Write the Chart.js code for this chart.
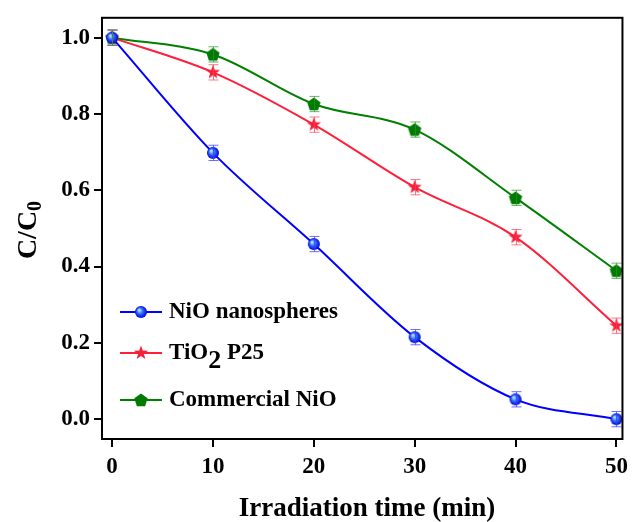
<!DOCTYPE html>
<html>
<head>
<meta charset="utf-8">
<script src="https://cdn.jsdelivr.net/npm/chart.js@4"></script>
<style>
  body { margin: 0; background: #fff; }
  #grafico { display: block; }
</style>
</head>
<body>
<canvas id="grafico" width="634" height="522"></canvas>
<script>
const tempos = [0, 10, 20, 30, 40, 50];
const nioNano = [1.0, 0.698, 0.459, 0.215, 0.052, 0.0];
const tio2 = [1.0, 0.909, 0.772, 0.608, 0.477, 0.245];
const nioComercial = [1.0, 0.956, 0.826, 0.759, 0.580, 0.389];
const erroNano = [0.02, 0.02, 0.02, 0.02, 0.02, 0.02];
const erroTio2 = [0.02, 0.02, 0.02, 0.02, 0.02, 0.02];
const erroComercial = [0.02, 0.02, 0.02, 0.02, 0.02, 0.02];
const ticksX = [0, 10, 20, 30, 40, 50];
const ticksY = [0.0, 0.2, 0.4, 0.6, 0.8, 1.0];

const fonte = '"Liberation Serif", "Times New Roman", serif';

function criarMarcador(tamanho, desenhar) {
  const c = document.createElement('canvas');
  c.width = tamanho;
  c.height = tamanho;
  desenhar(c.getContext('2d'), tamanho / 2);
  return c;
}

const esfera = criarMarcador(14, (ctx, m) => {
  const g = ctx.createRadialGradient(m - 2, m - 2, 0.5, m, m, 6);
  g.addColorStop(0, '#bfe4ff');
  g.addColorStop(0.45, '#2f6bff');
  g.addColorStop(1, '#0000d8');
  ctx.fillStyle = g;
  ctx.beginPath();
  ctx.arc(m, m, 6, 0, Math.PI * 2);
  ctx.fill();
});

const estrela = criarMarcador(16, (ctx, m) => {
  ctx.fillStyle = '#f5203a';
  ctx.beginPath();
  for (let i = 0; i < 10; i++) {
    const r = i % 2 === 0 ? 7.5 : 3;
    const a = -Math.PI / 2 + i * Math.PI / 5;
    ctx.lineTo(m + r * Math.cos(a), m + r * Math.sin(a));
  }
  ctx.closePath();
  ctx.fill();
});

const pentagono = criarMarcador(16, (ctx, m) => {
  ctx.fillStyle = '#007a00';
  ctx.beginPath();
  for (let i = 0; i < 5; i++) {
    const a = -Math.PI / 2 + i * 2 * Math.PI / 5;
    ctx.lineTo(m + 7 * Math.cos(a), m + 0.5 + 7 * Math.sin(a));
  }
  ctx.closePath();
  ctx.fill();
});

function pontos(valores) {
  return valores.map((v, i) => ({ x: tempos[i], y: v }));
}

const series = [
  { label: 'NiO nanospheres', valores: nioNano, erros: erroNano, cor: '#0000ff', erroCor: 'rgba(60,60,255,0.75)', marcador: esfera },
  { label: 'TiO2 P25', valores: tio2, erros: erroTio2, cor: '#ff1f3a', erroCor: 'rgba(255,60,80,0.7)', marcador: estrela },
  { label: 'Commercial NiO', valores: nioComercial, erros: erroComercial, cor: '#008000', erroCor: 'rgba(40,150,40,0.7)', marcador: pentagono },
];

const barrasErro = {
  id: 'barrasErro',
  afterDatasetsDraw(chart) {
    const ctx = chart.ctx;
    const sx = chart.scales.x, sy = chart.scales.y;
    ctx.save();
    series.forEach(s => {
      ctx.strokeStyle = s.erroCor;
      ctx.lineWidth = 1;
      s.valores.forEach((v, i) => {
        const x = Math.round(sx.getPixelForValue(tempos[i])) + 0.5;
        const y1 = sy.getPixelForValue(v + s.erros[i]);
        const y2 = sy.getPixelForValue(v - s.erros[i]);
        ctx.beginPath();
        ctx.moveTo(x, y1); ctx.lineTo(x, y2);
        ctx.moveTo(x - 5, y1); ctx.lineTo(x + 5, y1);
        ctx.moveTo(x - 5, y2); ctx.lineTo(x + 5, y2);
        ctx.stroke();
      });
    });
    ctx.restore();
  }
};

const moldura = {
  id: 'moldura',
  afterDraw(chart) {
    const ctx = chart.ctx;
    const a = chart.chartArea;
    ctx.save();
    ctx.strokeStyle = '#000';
    ctx.lineWidth = 2;
    ctx.strokeRect(a.left, a.top, a.right - a.left, a.bottom - a.top);

    // titulo do eixo x
    ctx.fillStyle = '#000';
    ctx.font = 'bold 27px ' + fonte;
    ctx.textAlign = 'center';
    ctx.textBaseline = 'alphabetic';
    ctx.fillText('Irradiation time (min)', 367, 516);

    // titulo do eixo y com subscrito
    ctx.translate(36, 230);
    ctx.rotate(-Math.PI / 2);
    ctx.textAlign = 'left';
    ctx.font = 'bold 28px ' + fonte;
    const w1 = ctx.measureText('C/C').width;
    ctx.font = 'bold 20px ' + fonte;
    const w2 = ctx.measureText('0').width;
    const x0 = -(w1 + w2) / 2;
    ctx.font = 'bold 28px ' + fonte;
    ctx.fillText('C/C', x0, 0);
    ctx.font = 'bold 20px ' + fonte;
    ctx.fillText('0', x0 + w1, 5);
    ctx.restore();
  }
};

const legenda = {
  id: 'legenda',
  afterDraw(chart) {
    const ctx = chart.ctx;
    const linhasY = [312, 353, 400];
    ctx.save();
    series.forEach((s, i) => {
      const y = linhasY[i];
      ctx.strokeStyle = s.cor;
      ctx.lineWidth = 2;
      ctx.beginPath();
      ctx.moveTo(120, y); ctx.lineTo(162, y);
      ctx.stroke();
      ctx.drawImage(s.marcador, 141 - s.marcador.width / 2, y - s.marcador.height / 2);
      ctx.fillStyle = '#000';
      ctx.textBaseline = 'middle';
      ctx.textAlign = 'left';
      ctx.font = 'bold 23px ' + fonte;
      if (s.label === 'TiO2 P25') {
        ctx.fillText('TiO', 169, y);
        let x = 169 + ctx.measureText('TiO').width;
        ctx.font = 'bold 26px ' + fonte;
        ctx.fillText('2', x, y + 8);
        x += ctx.measureText('2').width;
        ctx.font = 'bold 23px ' + fonte;
        ctx.fillText(' P25', x, y);
      } else {
        ctx.fillText(s.label, 169, y);
      }
    });
    ctx.restore();
  }
};

new Chart(document.getElementById('grafico'), {
  type: 'line',
  data: {
    datasets: series.map(s => ({
      label: s.label,
      data: pontos(s.valores),
      borderColor: s.cor,
      backgroundColor: s.cor,
      borderWidth: 2,
      cubicInterpolationMode: 'monotone',
      pointStyle: s.marcador,
      pointRadius: 6,
      fill: false
    }))
  },
  options: {
    responsive: false,
    animation: false,
    layout: { padding: { top: 13, right: 8, left: 0, bottom: 0 } },
    plugins: {
      legend: { display: false },
      tooltip: { enabled: false }
    },
    scales: {
      x: {
        type: 'linear',
        min: -1,
        max: 50.6,
        afterFit: scale => { scale.height = 83; },
        afterBuildTicks: scale => { scale.ticks = ticksX.map(v => ({ value: v })); },
        border: { display: false },
        grid: { drawOnChartArea: false, tickLength: 8, color: '#000', lineWidth: 2 },
        ticks: {
          color: '#000',
          padding: 6,
          maxRotation: 0,
          font: { family: fonte, size: 23, weight: 'bold' }
        }
      },
      y: {
        min: -0.052,
        max: 1.052,
        afterFit: scale => { scale.width = 102; },
        afterBuildTicks: scale => { scale.ticks = ticksY.map(v => ({ value: v })); },
        border: { display: false },
        grid: { drawOnChartArea: false, tickLength: 8, color: '#000', lineWidth: 2 },
        ticks: {
          color: '#000',
          padding: 4,
          font: { family: fonte, size: 23, weight: 'bold' },
          callback: v => v.toFixed(1)
        }
      }
    }
  },
  plugins: [barrasErro, moldura, legenda]
});
</script>
</body>
</html>
